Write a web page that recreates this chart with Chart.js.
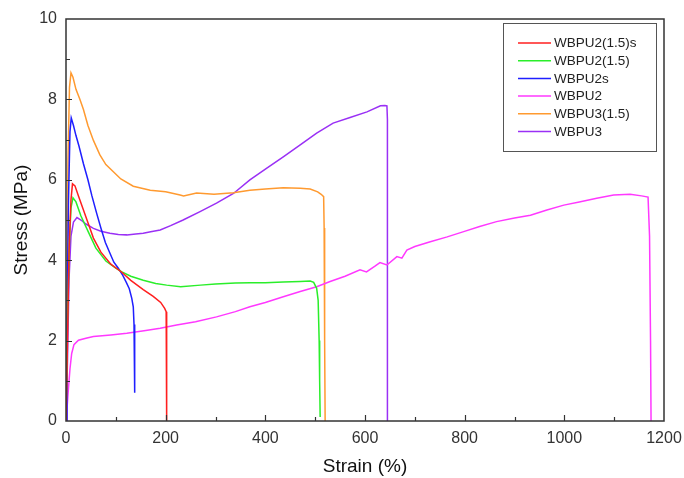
<!DOCTYPE html>
<html>
<head>
<meta charset="utf-8">
<script src="https://cdn.jsdelivr.net/npm/chart.js@4.4.1/dist/chart.umd.min.js"></script>
<style>
  html, body { margin: 0; padding: 0; background: #fff; }
  #c { display: block; }
</style>
</head>
<body>
<canvas id="c" width="684" height="478"></canvas>
<script>
// strain (%) / stress (MPa)
const labels = ["WBPU2(1.5)s", "WBPU2(1.5)", "WBPU2s", "WBPU2", "WBPU3(1.5)", "WBPU3"];
const colors = ["#ff1f1f", "#2aee2a", "#1f1fff", "#ff38ff", "#ff9a30", "#9a30f5"];

const wbpu2_15s_strain = [0, 3, 6, 10, 13, 18, 25, 35, 45, 55, 70, 90, 112, 130, 155, 175, 190, 198, 201, 202, 202];
const wbpu2_15s_stress = [0, 2.0, 4.2, 5.5, 5.9, 5.85, 5.6, 5.25, 4.9, 4.55, 4.2, 3.9, 3.7, 3.5, 3.27, 3.1, 2.95, 2.8, 2.72, 1.0, 0];

const wbpu2_15_strain = [0, 3, 7, 10, 14, 20, 30, 45, 60, 80, 100, 112, 130, 155, 180, 202, 230, 270, 300, 340, 370, 400, 436, 470, 490, 497, 503, 506, 508, 509, 510];
const wbpu2_15_stress = [0, 2.5, 4.5, 5.3, 5.55, 5.45, 5.1, 4.7, 4.3, 3.98, 3.8, 3.71, 3.6, 3.5, 3.42, 3.38, 3.34, 3.38, 3.41, 3.43, 3.44, 3.44, 3.46, 3.47, 3.48, 3.45, 3.3, 3.0, 2.0, 1.0, 0.1];

const wbpu2s_strain = [0, 2, 5, 8, 10.5, 15, 20, 26, 35, 44, 52, 61, 70, 79, 88, 96, 105, 114, 121, 127, 132, 135, 136.5, 137.5, 138, 138];
const wbpu2s_stress = [0, 2.5, 5.5, 7.2, 7.54, 7.35, 7.1, 6.84, 6.4, 6.0, 5.6, 5.19, 4.8, 4.44, 4.18, 3.95, 3.8, 3.62, 3.45, 3.29, 3.05, 2.84, 2.4, 1.8, 1.2, 0.7];

const wbpu2_strain = [0, 2, 4.7, 8, 11.4, 16, 25, 40, 55, 90, 122, 160, 189, 222, 260, 302, 340, 369, 400, 436, 470, 503, 530, 560, 590, 603, 620, 630, 644, 664, 674, 684, 700, 731, 765, 798, 830, 864, 900, 932, 965, 999, 1030, 1065, 1099, 1132, 1155, 1168, 1171, 1173, 1174];
const wbpu2_stress = [0, 0.3, 0.77, 1.3, 1.68, 1.9, 2.01, 2.06, 2.10, 2.14, 2.18, 2.25, 2.31, 2.39, 2.47, 2.59, 2.72, 2.84, 2.95, 3.09, 3.22, 3.34, 3.47, 3.6, 3.76, 3.71, 3.85, 3.94, 3.88, 4.09, 4.05, 4.25, 4.34, 4.46, 4.58, 4.71, 4.84, 4.96, 5.05, 5.12, 5.25, 5.37, 5.45, 5.54, 5.62, 5.64, 5.6, 5.57, 4.6, 2.0, 0];

const wbpu3_15_strain = [0, 2, 4, 7, 10, 14, 20, 28, 35, 44, 55, 68, 80, 95, 110, 135, 169, 200, 229, 236, 262, 297, 336, 369, 400, 436, 470, 490, 505, 512, 517, 518, 519, 520];
const wbpu3_15_stress = [0, 3, 6.5, 8.3, 8.66, 8.55, 8.25, 8.0, 7.75, 7.35, 6.98, 6.62, 6.38, 6.2, 6.02, 5.84, 5.74, 5.7, 5.62, 5.6, 5.67, 5.64, 5.68, 5.74, 5.77, 5.8, 5.79, 5.77, 5.7, 5.64, 5.58, 4.8, 2.0, 0];

const wbpu3_strain = [0, 3, 6, 10, 15, 22, 30, 40, 55, 70, 88, 105, 122, 140, 155, 170, 189, 210, 235, 269, 302, 336, 369, 403, 436, 470, 503, 536, 570, 604, 631, 640, 644, 645, 645];
const wbpu3_stress = [0, 1.5, 3.5, 4.6, 4.95, 5.06, 5.0, 4.9, 4.79, 4.72, 4.67, 4.64, 4.63, 4.65, 4.67, 4.71, 4.75, 4.86, 5.0, 5.21, 5.42, 5.66, 6.0, 6.29, 6.57, 6.87, 7.16, 7.41, 7.55, 7.69, 7.84, 7.85, 7.84, 7.5, 0];

const xTicks = [0, 200, 400, 600, 800, 1000, 1200];
const yTicks = [0, 2, 4, 6, 8, 10];

const curves = [
  [wbpu2_15s_strain, wbpu2_15s_stress],
  [wbpu2_15_strain, wbpu2_15_stress],
  [wbpu2s_strain, wbpu2s_stress],
  [wbpu2_strain, wbpu2_stress],
  [wbpu3_15_strain, wbpu3_15_stress],
  [wbpu3_strain, wbpu3_stress]
];

const FONT = "'Liberation Sans', Arial, sans-serif";

// frame, inward ticks (major + minor) and the boxed legend
const framePlugin = {
  id: "frame",
  afterDraw(chart) {
    const ctx = chart.ctx;
    const a = chart.chartArea;
    const sx = chart.scales.x, sy = chart.scales.y;
    ctx.save();
    ctx.strokeStyle = "#333";
    ctx.lineWidth = 1.5;
    ctx.strokeRect(a.left, a.top, a.right - a.left, a.bottom - a.top);
    ctx.lineWidth = 1.2;
    ctx.beginPath();
    for (let v = 100; v < 1200; v += 100) {
      const px = Math.round(sx.getPixelForValue(v)) + 0.5;
      const len = v % 200 === 0 ? 6 : 4;
      ctx.moveTo(px, a.bottom);
      ctx.lineTo(px, a.bottom - len);
    }
    for (let v = 1; v < 10; v += 1) {
      const py = Math.round(sy.getPixelForValue(v)) + 0.5;
      const len = v % 2 === 0 ? 6 : 4;
      ctx.moveTo(a.left, py);
      ctx.lineTo(a.left + len, py);
    }
    ctx.stroke();

    // legend
    ctx.strokeStyle = "#555";
    ctx.lineWidth = 1;
    ctx.strokeRect(503.5, 23.5, 153, 128);
    ctx.font = "13.5px " + FONT;
    ctx.textBaseline = "middle";
    ctx.textAlign = "left";
    chart.data.datasets.forEach((ds, i) => {
      const y = 43 + i * 17.7;
      ctx.strokeStyle = ds.borderColor;
      ctx.lineWidth = 1.5;
      ctx.beginPath();
      ctx.moveTo(518, y);
      ctx.lineTo(551, y);
      ctx.stroke();
      ctx.fillStyle = "#222";
      ctx.fillText(ds.label, 554, y + 0.5);
    });
    ctx.restore();
  }
};

new Chart(document.getElementById("c"), {
  type: "scatter",
  data: {
    datasets: labels.map((lab, i) => ({
      label: lab,
      data: curves[i][0].map((x, j) => ({ x: x, y: curves[i][1][j] })),
      showLine: true,
      borderColor: colors[i],
      backgroundColor: colors[i],
      borderWidth: 1.5,
      pointRadius: 0,
      tension: 0
    }))
  },
  options: {
    responsive: false,
    animation: false,
    layout: { padding: { top: 19, right: 20, left: 0, bottom: 0 } },
    plugins: { legend: { display: false }, tooltip: { enabled: false } },
    scales: {
      x: {
        type: "linear",
        min: 0,
        max: 1200,
        afterBuildTicks: s => { s.ticks = xTicks.map(v => ({ value: v })); },
        afterFit: s => { s.height = 57; s.paddingLeft = 0; s.paddingRight = 0; },
        grid: { display: false, drawTicks: false },
        border: { display: false },
        ticks: { padding: 8, color: "#333", font: { family: FONT, size: 16 }, maxRotation: 0, callback: v => String(v) },
        title: { display: true, text: "Strain (%)", color: "#111", font: { family: FONT, size: 19 }, padding: { top: 0, bottom: 0 } }
      },
      y: {
        type: "linear",
        min: 0,
        max: 10,
        afterBuildTicks: s => { s.ticks = yTicks.map(v => ({ value: v })); },
        afterFit: s => { s.width = 66; s.paddingTop = 0; s.paddingBottom = 0; },
        grid: { display: false, drawTicks: false },
        border: { display: false },
        ticks: { padding: 9, color: "#333", font: { family: FONT, size: 16 }, callback: v => String(v) },
        title: { display: true, text: "Stress (MPa)", color: "#111", font: { family: FONT, size: 19 }, padding: { top: 10, bottom: 0 } }
      }
    }
  },
  plugins: [framePlugin]
});
</script>
</body>
</html>
